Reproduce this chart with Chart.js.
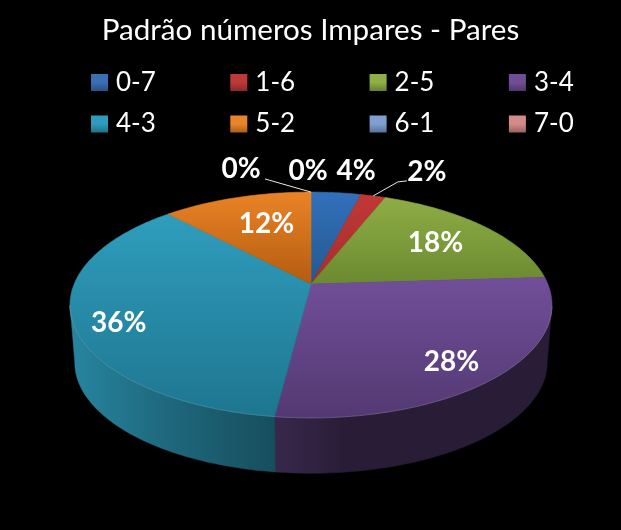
<!DOCTYPE html>
<html><head><meta charset="utf-8">
<script src="https://cdn.jsdelivr.net/npm/chart.js@4"></script>
<style>html,body{margin:0;padding:0;background:#000}canvas{display:block}</style>
</head><body>
<canvas id="c" width="621" height="530"></canvas>
<script>
const chartTitle = 'Padrão números Impares - Pares';
const categories = ['0-7','1-6','2-5','3-4','4-3','5-2','6-1','7-0'];
const values = [4,2,18,28,36,12,0,0];
const colors = ['#3a6fb5','#bd3a38','#8fb045','#6f4e96','#2e9cbc','#ea8428','#7e9fd0','#d48a88'];
const topShade = ['#3270bb','#c03836','#8ead45','#714f99','#2f9dbd','#ea8326','#7e9fd0','#d48a88'];
const bottomShade = ['#24598f','#a52e2c','#6b8a30','#533973','#1e7690','#b45c10','#7e9fd0','#d48a88'];

const font = 'Lato, Carlito, "Open Sans", sans-serif';
// perspective of the tilted disc
const view = {x:311, y:284, a:236.8, b:109, q:0.186, depth:58, inset:0.98};
function project(deg, f, low){
  const t = deg*Math.PI/180, u = f*Math.sin(t), v = -f*Math.cos(t), w = 1-view.q*v;
  const s = low ? view.inset : 1;
  return {x:view.x+s*view.a*u/w, y:view.y+(low?view.depth:0)+s*view.b*v/w};
}
const toDeg = r => r*180/Math.PI+90;
function mix(hex, k){
  const n=parseInt(hex.slice(1),16);
  return `rgb(${Math.round((n>>16)*k)},${Math.round(((n>>8)&255)*k)},${Math.round((n&255)*k)})`;
}
const wallStops=[[70,0.85],[170,0.66],[275,0.5],[350,0.36],[560,0.36]];
// label placement: radial fraction + nudge, per category
const labelPlace = [[1.25,15,-3],[1.25,41,-6],[0.7,0,0.5],[0.7,15,16.5],[0.7,-28,14.5],[0.7,10,3.5],[1.25,-70,-4.5],[1.25,-3,-2.5]];
const leaders = {1:[[-20,9],[-29,10]],6:[[24,10]]};
// the wall is visible only between the two silhouette angles of the disc
const silhouette = Math.acos(-view.q)*180/Math.PI;

const disc3d = {
  id:'disc3d',
  beforeDatasetsDraw(chart){
    const ctx=chart.ctx, arcs=chart.getDatasetMeta(0).data;
    ctx.save();
    // side wall
    arcs.forEach((arc,i)=>{
      const s=Math.max(toDeg(arc.startAngle),silhouette), e=Math.min(toDeg(arc.endAngle),360-silhouette);
      if(e<=s) return;
      const g=ctx.createLinearGradient(70,0,560,0);
      wallStops.forEach(st=>g.addColorStop((st[0]-70)/490,mix(colors[i],st[1])));
      ctx.fillStyle=g;ctx.strokeStyle=g;ctx.lineWidth=0.5;
      ctx.beginPath();
      let started=false;
      for(let d=s;d<=e;d+=1){const p=project(d,1);started?ctx.lineTo(p.x,p.y):ctx.moveTo(p.x,p.y);started=true;}
      let p=project(e,1);ctx.lineTo(p.x,p.y);
      p=project(e,1,true);ctx.lineTo(p.x,p.y);
      for(let d=e;d>=s;d-=1){const q=project(d,1,true);ctx.lineTo(q.x,q.y);}
      p=project(s,1,true);ctx.lineTo(p.x,p.y);
      ctx.closePath();ctx.fill();ctx.stroke();
    });
    // top surface
    arcs.forEach((arc,i)=>{
      const s=toDeg(arc.startAngle), e=toDeg(arc.endAngle);
      if(e-s<=0) return;
      const pts=[{x:view.x,y:view.y}];
      for(let d=s;d<e;d+=1) pts.push(project(d,1));
      pts.push(project(e,1));
      const ys=pts.map(p=>p.y), g=ctx.createLinearGradient(0,Math.min(...ys),0,Math.max(...ys));
      g.addColorStop(0,topShade[i]);g.addColorStop(1,bottomShade[i]);
      ctx.fillStyle=g;ctx.strokeStyle=g;ctx.lineWidth=0.6;
      ctx.beginPath();pts.forEach((p,k)=>k?ctx.lineTo(p.x,p.y):ctx.moveTo(p.x,p.y));ctx.closePath();
      ctx.fill();ctx.stroke();
      // light rim on the front edge
      ctx.strokeStyle='rgba(255,255,255,0.16)';ctx.lineWidth=1;
      ctx.beginPath();let on=false;
      pts.slice(1).forEach(p=>{ if(p.y>305){on?ctx.lineTo(p.x,p.y):ctx.moveTo(p.x,p.y);on=true;} });
      ctx.stroke();
    });
    ctx.restore();
    return false;
  },
  afterDraw(chart){
    const ctx=chart.ctx, arcs=chart.getDatasetMeta(0).data;
    ctx.save();
    // legend
    ctx.textBaseline='middle';ctx.textAlign='left';
    ctx.font='26px '+font;
    categories.forEach((c,i)=>{
      const col=i%4,row=Math.floor(i/4);
      const x=91+col*139.3,y=82+row*41.5;
      const g=ctx.createLinearGradient(0,y-8,0,y+9);
      g.addColorStop(0,colors[i]);g.addColorStop(0.5,colors[i]);g.addColorStop(1,mix(colors[i],0.72));
      ctx.fillStyle=g;ctx.fillRect(x,y-8,17,17);
      ctx.fillStyle='#fff';ctx.fillText(c,x+25,y+0.5);
    });
    // value labels
    ctx.font='bold 28px '+font;ctx.textAlign='center';
    const total=values.reduce((a,b)=>a+b,0);
    arcs.forEach((arc,i)=>{
      const mid=(toDeg(arc.startAngle)+toDeg(arc.endAngle))/2;
      const [f,dx,dy]=labelPlace[i];
      const p=project(mid,f), x=p.x+dx, y=p.y+dy;
      if(leaders[i]){
        const end=project(mid,1);
        ctx.strokeStyle='#e8e8e8';ctx.lineWidth=1;
        ctx.beginPath();
        leaders[i].forEach((o,k)=>k?ctx.lineTo(x+o[0],y+o[1]):ctx.moveTo(x+o[0],y+o[1]));
        ctx.lineTo(end.x,end.y);ctx.stroke();
      }
      ctx.fillStyle='#fff';
      ctx.fillText(Math.round(values[i]/total*100)+'%',x,y);
    });
    ctx.restore();
  }
};

new Chart(document.getElementById('c'),{
  type:'pie',
  data:{labels:categories,datasets:[{data:values,backgroundColor:colors,borderWidth:0}]},
  options:{
    responsive:false,animation:false,devicePixelRatio:1,
    events:[],
    layout:{padding:0},
    plugins:{
      legend:{display:false},
      tooltip:{enabled:false},
      title:{display:true,text:chartTitle,color:'#fff',font:{family:font,size:29.6,weight:'normal'},padding:{top:13,bottom:12}}
    }
  },
  plugins:[disc3d]
});
</script>
</body></html>
